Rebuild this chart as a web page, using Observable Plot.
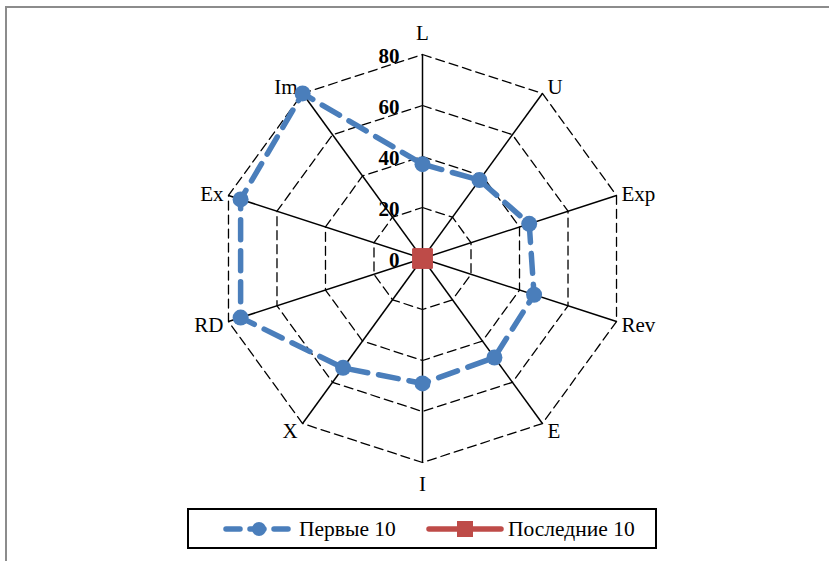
<!DOCTYPE html>
<html>
<head>
<meta charset="utf-8">
<script src="https://cdn.jsdelivr.net/npm/d3@7"></script>
<script src="https://cdn.jsdelivr.net/npm/@observablehq/plot@0.6"></script>
<style>
  html, body { margin: 0; padding: 0; background: #fff; }
  body { width: 829px; height: 561px; position: relative; overflow: hidden; font-family: "Liberation Serif", "Times New Roman", serif; }
  #frame { position: absolute; left: 5px; top: 6px; width: 900px; height: 700px; border-top: 2px solid #8c8c8c; border-left: 2px solid #8c8c8c; box-sizing: border-box; }
  #chart { position: absolute; left: 0; top: 0; }
  #legend { position: absolute; left: 187px; top: 508px; width: 470px; height: 41px; border: 2px solid #000; box-sizing: border-box; background: #fff; }
  #legend text { font-family: "Liberation Serif", "Times New Roman", serif; }
</style>
</head>
<body>
<div id="frame"></div>
<div id="chart"></div>
<div id="legend"></div>
<script>
const axes = ["L", "U", "Exp", "Rev", "E", "I", "X", "RD", "Ex", "Im"];
const first10 = [37, 38, 44, 46, 48, 49, 53, 75, 75, 80];
const last10 = [0, 0, 0, 0, 0, 0, 0, 0, 0, 0];
const ticks = [0, 20, 40, 60, 80];
const seriesNames = ["Первые 10", "Последние 10"];

const rMax = 80;
const W = 829, H = 500;
const cx = 422, cy = 258, k = 204 / 80;
const n = axes.length;
const ang = i => (i / n) * 2 * Math.PI; // clockwise from top
const px = (i, v) => v * Math.sin(ang(i));
const py = (i, v) => v * Math.cos(ang(i));

const rings = ticks.filter(t => t > 0).flatMap(t =>
  d3.range(n + 1).map(i => ({ ring: t, x: px(i % n, t), y: py(i % n, t) })));
const spokes = axes.map((a, i) => ({ x1: 0, y1: 0, x2: px(i, rMax), y2: py(i, rMax) }));
const closed = vals => d3.range(n + 1).map(i => ({ x: px(i % n, vals[i % n]), y: py(i % n, vals[i % n]) }));
const pts = vals => vals.map((v, i) => ({ x: px(i, v), y: py(i, v) }));

const labels = axes.map((a, i) => {
  const s = Math.sin(ang(i)), c = Math.cos(ang(i));
  const mid = Math.abs(s) < 0.1;
  const anchor = mid ? "middle" : (s > 0 ? "start" : "end");
  const dx = mid ? 0 : (s > 0 ? 5 : -5);
  const dy = mid ? (c > 0 ? -21 : 22) : (c > 0.5 ? -6 : (c < -0.5 ? 8 : (c > 0 ? -1 : 4)));
  return { label: a, x: px(i, rMax), y: py(i, rMax), anchor, dx, dy };
});

const blue = "#4a7ebb", red = "#be4b48";
const serif = "'Liberation Serif', 'Times New Roman', serif";

const plot = Plot.plot({
  width: W, height: H,
  margin: 0,
  x: { domain: [-cx / k, (W - cx) / k], range: [0, W], axis: null },
  y: { domain: [(cy - H) / k, cy / k], range: [H, 0], axis: null },
  style: { fontFamily: serif, background: "transparent" },
  marks: [
    Plot.line(rings, { x: "x", y: "y", z: "ring", stroke: "#000", strokeWidth: 1.3, strokeDasharray: "9,5" }),
    Plot.link(spokes, { x1: "x1", y1: "y1", x2: "x2", y2: "y2", stroke: "#000", strokeWidth: 1.5 }),
    ...labels.map(d => Plot.text([d], { x: "x", y: "y", text: "label", dx: d.dx, dy: d.dy, textAnchor: d.anchor, fontSize: 21, fill: "#000" })),
    Plot.line(closed(first10), { x: "x", y: "y", stroke: blue, strokeWidth: 5.5, strokeDasharray: "20,11", strokeLinecap: "round", strokeLinejoin: "round" }),
    Plot.dot(pts(first10), { x: "x", y: "y", r: 8, fill: blue, symbol: "circle" }),
    Plot.line(closed(last10), { x: "x", y: "y", stroke: red, strokeWidth: 5 }),
    Plot.dot(pts(last10), { x: "x", y: "y", r: 11, fill: red, symbol: "square" }),
    Plot.text(ticks, { x: 0, y: d => d, text: d => String(d), dx: -23, dy: 2, textAnchor: "end", fontSize: 21, fontWeight: "bold", fill: "#000" })
  ]
});
document.getElementById("chart").appendChild(plot);

// legend
const lg = d3.select("#legend").append("svg").attr("width", 466).attr("height", 37);
const ly = 19;
lg.append("line").attr("x1", 37).attr("x2", 103).attr("y1", ly).attr("y2", ly)
  .attr("stroke", blue).attr("stroke-width", 5.5).attr("stroke-dasharray", "14,10").attr("stroke-linecap", "round");
lg.append("circle").attr("cx", 70).attr("cy", ly).attr("r", 7).attr("fill", blue);
lg.append("text").attr("x", 110).attr("y", ly + 7).attr("font-size", 21.5).text(seriesNames[0]);
lg.append("line").attr("x1", 240).attr("x2", 312).attr("y1", ly).attr("y2", ly)
  .attr("stroke", red).attr("stroke-width", 5.5).attr("stroke-linecap", "round");
lg.append("rect").attr("x", 268).attr("y", ly - 8).attr("width", 16).attr("height", 16).attr("fill", red);
lg.append("text").attr("x", 319).attr("y", ly + 7).attr("font-size", 21.5).text(seriesNames[1]);
</script>
</body>
</html>
